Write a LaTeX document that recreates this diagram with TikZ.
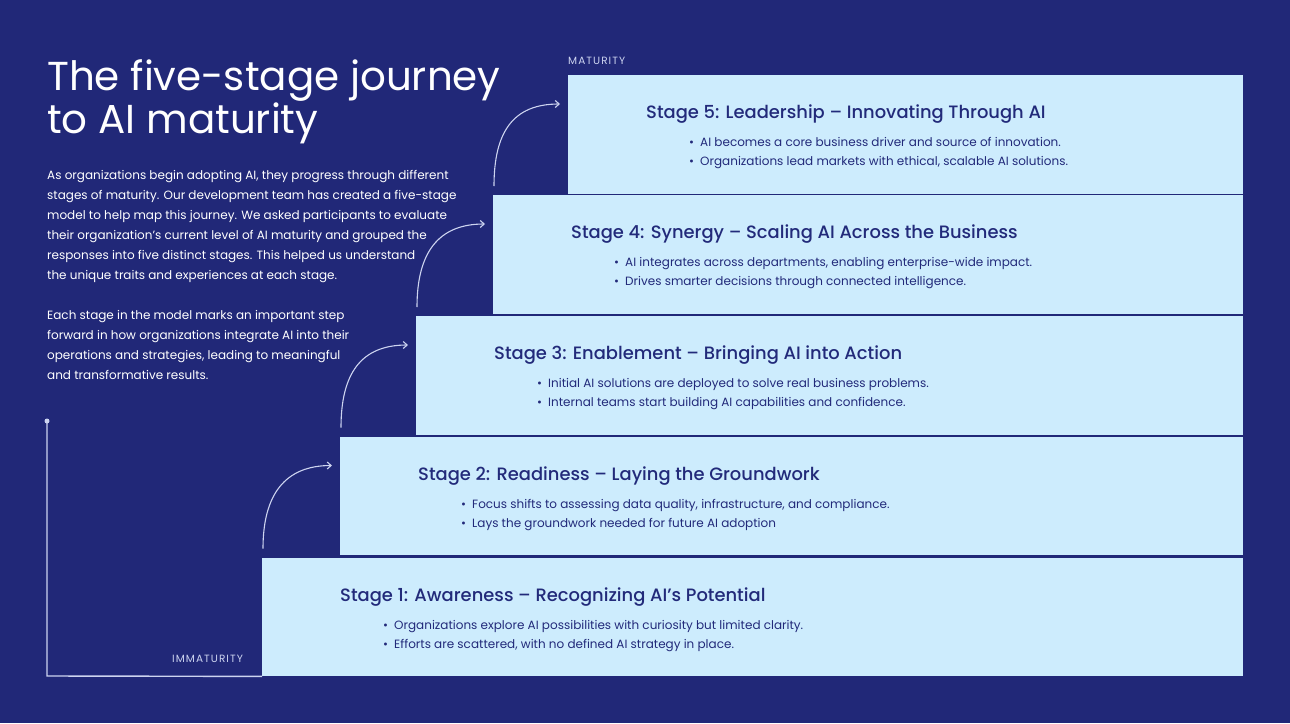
\documentclass[tikz,border=0pt]{standalone}
\usepackage{fontspec}
\setmainfont{Poppins}
\newfontfamily\medfont{Poppins Medium}
\usetikzlibrary{arrows.meta,calc}
\definecolor{bg}{RGB}{33,40,120}
\definecolor{boxc}{RGB}{205,236,253}
\definecolor{ink}{RGB}{34,42,122}
\definecolor{pale}{RGB}{205,212,240}
\tikzset{
  stagebox/.style={fill=boxc, draw=none, anchor=north west, inner sep=0, minimum height=118.5pt},
  stitle/.style={anchor=base west, inner sep=0, text=ink, font=\medfont\fontsize{17.9}{22}\selectfont},
  sbullet/.style={anchor=base west, inner sep=0, text=ink, font=\fontsize{12}{15}\selectfont},
  para/.style={anchor=base west, inner sep=0, text=white, font=\fontsize{12}{15}\selectfont},
  axlabel/.style={anchor=base west, inner sep=0, text=pale, font=\fontsize{10.5}{12}\selectfont\addfontfeatures{LetterSpace=10}},
  journey/.style={draw=pale, line width=1.1pt, -{Straight Barb[length=4pt,width=7pt]}},
  bigtitle/.style={anchor=base west, inner sep=0, text=white, font=\fontsize{40.4}{44}\selectfont},
}
\begin{document}
\begin{tikzpicture}[x=1pt,y=-1pt]
\fill[bg] (0,0) rectangle (1290,723);
\useasboundingbox (0,0) rectangle (1290,723);

% axis
\coordinate (axtop) at (47,421);
\coordinate (axcorner) at (47,676);
\node[stagebox, minimum width=981pt] (s1) at (262,557.5) {};
\node[stagebox, minimum width=903pt] (s2) at (340,436.5) {};
\node[stagebox, minimum width=827pt] (s3) at (416,316) {};
\node[stagebox, minimum width=750pt] (s4) at (493,195) {};
\node[stagebox, minimum width=675pt] (s5) at (568,75) {};
\draw[pale, line width=1.4pt] (axtop) -- (axcorner) -- (s1.south west);
\fill[pale] (axtop) circle (2.5pt);

% title
\node[bigtitle] (title1) at (47,90) {The five-stage journey};
\node[bigtitle] (title2) at (47,133) {to AI maturity};

% paragraph
\node[para] (p1) at (47,179.5) {As organizations begin adopting AI, they progress through different};
\node[para] (p2) at (47,199.5) {stages of maturity. Our development team has created a five-stage};
\node[para] (p3) at (47,219.5) {model to help map this journey. We asked participants to evaluate};
\node[para] (p4) at (47,239.5) {their organization's current level of AI maturity and grouped the};
\node[para] (p5) at (47,259.5) {responses into five distinct stages. This helped us understand};
\node[para] (p6) at (47,279.5) {the unique traits and experiences at each stage.};
\node[para] (p7) at (47,319.5) {Each stage in the model marks an important step};
\node[para] (p8) at (47,339.5) {forward in how organizations integrate AI into their};
\node[para] (p9) at (47,359.5) {operations and strategies, leading to meaningful};
\node[para] (p10) at (47,379.5) {and transformative results.};

% axis labels
\node[axlabel] (mat) at (568,64) {MATURITY};
\node[axlabel] (immat) at (172,662) {IMMATURITY};

% stage texts
\foreach \s/\t/\a/\b in {
  s1/{Stage 1: Awareness – Recognizing AI’s Potential}/{Organizations explore AI possibilities with curiosity but limited clarity.}/{Efforts are scattered, with no defined AI strategy in place.},
  s2/{Stage 2: Readiness – Laying the Groundwork}/{Focus shifts to assessing data quality, infrastructure, and compliance.}/{Lays the groundwork needed for future AI adoption},
  s3/{Stage 3: Enablement – Bringing AI into Action}/{Initial AI solutions are deployed to solve real business problems.}/{Internal teams start building AI capabilities and confidence.},
  s4/{Stage 4: Synergy – Scaling AI Across the Business}/{AI integrates across departments, enabling enterprise-wide impact.}/{Drives smarter decisions through connected intelligence.},
  s5/{Stage 5: Leadership – Innovating Through AI}/{AI becomes a core business driver and source of innovation.}/{Organizations lead markets with ethical, scalable AI solutions.}}
{
  \node[stitle] (\s t) at ($(\s.north west)+(78,43.5)$) {\t};
  \node[sbullet] (\s ba) at ($(\s.north west)+(121,71.5)$) {•};
  \node[sbullet] (\s a) at ($(\s.north west)+(132,71.5)$) {\a};
  \node[sbullet] (\s bb) at ($(\s.north west)+(121,90.5)$) {•};
  \node[sbullet] (\s b) at ($(\s.north west)+(132,90.5)$) {\b};
}

% arrows
\foreach \lo/\hi in {s1/s2, s2/s3, s3/s4, s4/s5}{
  \coordinate (\lo st) at ($(\lo.north west)+(1,-9)$);
  \coordinate (\lo en) at ($(\hi.north west)+(-8,29)$);
  \draw[journey] (\lo st) .. controls ($(\lo st)+(0,-54)$) and ($(\lo en)+(-47,0)$) .. (\lo en);
}
\end{tikzpicture}
\end{document}
